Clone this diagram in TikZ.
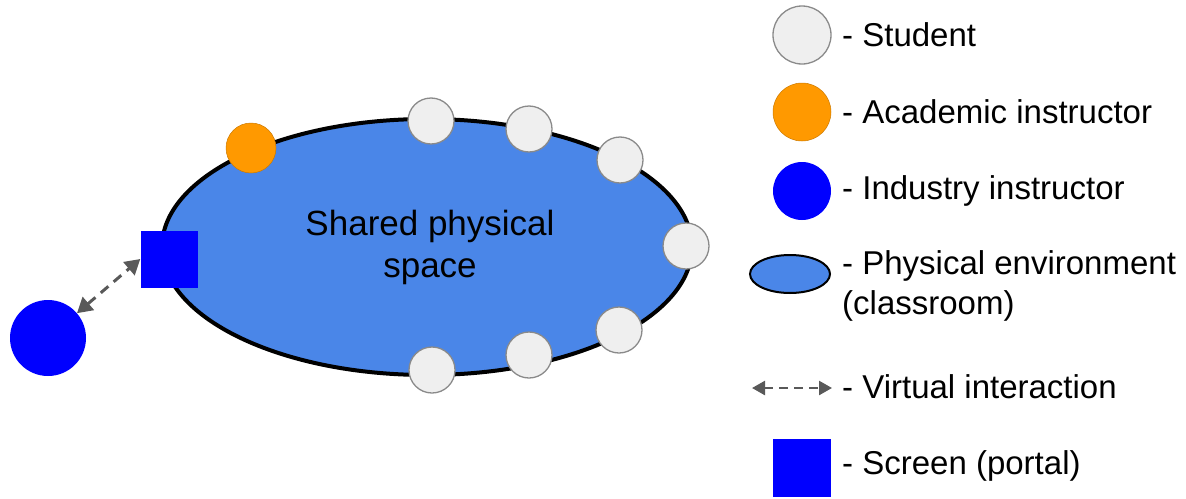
\documentclass[tikz,border=0pt]{standalone}
\usepackage{fontspec}
\setmainfont{Liberation Sans}
\usetikzlibrary{shapes.geometric,arrows.meta}
\definecolor{envblue}{HTML}{4A86E8}
\definecolor{acorange}{HTML}{FF9900}
\definecolor{indblue}{HTML}{0000FF}
\definecolor{stufill}{HTML}{EFEFEF}
\definecolor{stuedge}{HTML}{8A8A8A}
\definecolor{arrgray}{HTML}{595959}
\tikzset{
  student/.style={circle, fill=stufill, draw=stuedge, line width=1.3pt, minimum size=46pt, inner sep=0pt},
  academic/.style={circle, fill=acorange, draw=acorange!80!black, line width=0.5pt, minimum size=50pt, inner sep=0pt},
  industry/.style={circle, fill=indblue, minimum size=76pt, inner sep=0pt},
  screenbox/.style={rectangle, fill=indblue, minimum size=57pt, inner sep=0pt},
  env/.style={ellipse, fill=envblue, draw=black, line width=4pt, inner sep=0pt},
  virtual/.style={arrgray, line width=3pt, dash pattern=on 10pt off 7pt, {Triangle[length=15pt,width=17pt]}-{Triangle[length=15pt,width=17pt]}},
  legtext/.style={anchor=west, inner sep=0pt, font=\fontsize{33}{40}\selectfont, align=left},
}
\begin{document}
\begin{tikzpicture}[x=1pt, y=-1pt]
\useasboundingbox (0,0) rectangle (1186,498);
% environment
\node[env, minimum width=530pt, minimum height=256pt] (room) at (427,247) {};
\node[inner sep=0pt, align=center, font=\fontsize{35}{42}\selectfont] (label) at (430,247) {Shared physical\\space};
% students
\node[student] (s1) at (431,121) {};
\node[student] (s2) at (529,129) {};
\node[student] (s3) at (620,160) {};
\node[student] (s4) at (686,246) {};
\node[student] (s5) at (619,330) {};
\node[student] (s6) at (529,355) {};
\node[student] (s7) at (432,370) {};
% academic instructor
\node[academic] (ac) at (251,148) {};
% screen and industry instructor
\node[screenbox] (scr) at (169,259) {};
\node[industry] (ind) at (48,338) {};
\draw[virtual] (ind) -- (scr.west);
% legend
\node[student, minimum size=58pt] (lstu) at (802,35) {};
\node[legtext] (tstu) at (842,35) {- Student};
\node[academic, minimum size=58pt] (lac) at (802,112) {};
\node[legtext] (tac) at (842,112) {- Academic instructor};
\node[industry, minimum size=58pt] (lind) at (802,191) {};
\node[legtext] (tind) at (842,191) {- Industry instructor};
\node[env, minimum width=80pt, minimum height=38pt, line width=2pt] (lenv) at (790,274) {};
\node[legtext, anchor=north west] (tenv) at (842,250) {- Physical environment\\(classroom)};
\coordinate (la) at (752,388);
\coordinate (lb) at (832,388);
\draw[virtual, line width=2.5pt, dash pattern=on 9pt off 6pt, {Triangle[length=13pt,width=14pt]}-{Triangle[length=13pt,width=14pt]}] (la) -- (lb);
\node[legtext] (tvi) at (842,387) {- Virtual interaction};
\node[screenbox, minimum size=58pt] (lscr) at (802,468) {};
\node[legtext] (tscr) at (842,466) {- Screen (portal)};
\end{tikzpicture}
\end{document}
